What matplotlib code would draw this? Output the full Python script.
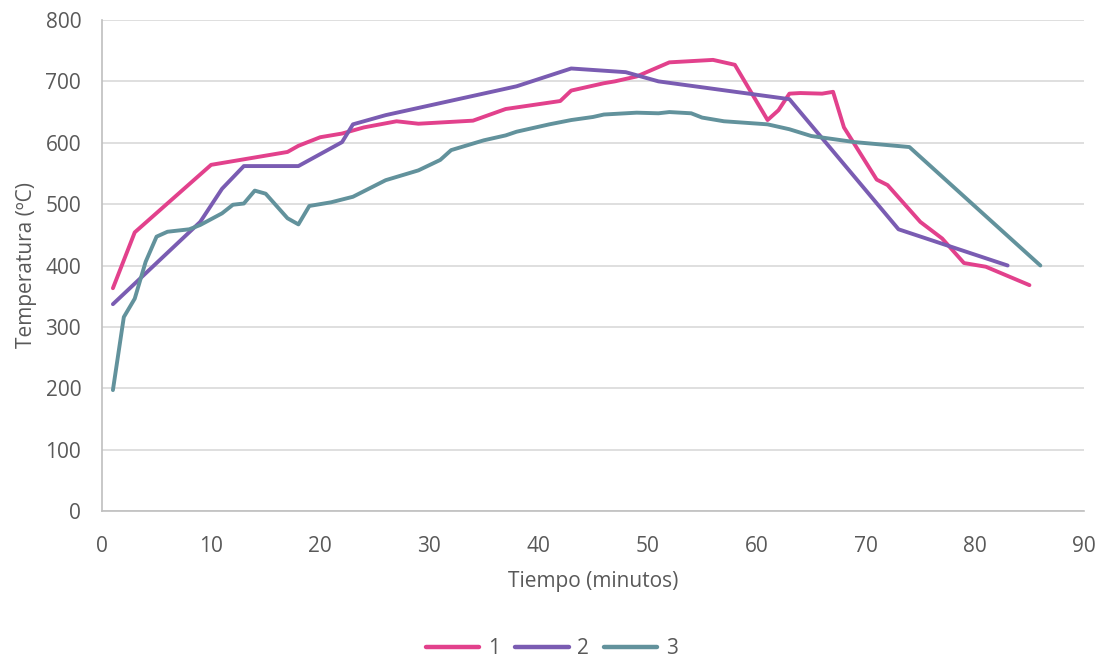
import matplotlib
matplotlib.use("Agg")
import matplotlib.pyplot as plt

plt.rcParams['font.family'] = ['Open Sans', 'DejaVu Sans']

# Series 1 (pink)
t1 = [1, 3, 10, 17, 18, 20, 22, 24, 27, 29, 34, 37, 42, 43, 46, 47, 49, 52, 56, 58, 61, 62, 63, 64, 66, 67, 68, 71, 72, 75, 77, 79, 81, 85]
y1 = [363, 454, 564, 585, 595, 609, 615, 625, 635, 631, 636, 655, 668, 685, 697, 700, 708, 731, 735, 727, 637, 653, 680, 681, 680, 683, 625, 540, 531, 471, 444, 404, 398, 368]

# Series 2 (purple)
t2 = [1, 9, 11, 13, 18, 22, 23, 26, 38, 43, 48, 51, 63, 73, 83]
y2 = [337, 471, 525, 562, 562, 601, 630, 645, 692, 721, 715, 700, 671, 459, 400]

# Series 3 (teal)
t3 = [1, 2, 3, 4, 5, 6, 8, 9, 11, 12, 13, 14, 15, 17, 18, 19, 21, 23, 26, 29, 31, 32, 35, 37, 38, 40, 41, 43, 45, 46, 49, 51, 52, 54, 55, 57, 61, 63, 65, 67, 69, 74, 86]
y3 = [197, 316, 346, 406, 447, 455, 459, 466, 485, 499, 501, 522, 517, 477, 467, 497, 503, 512, 539, 555, 572, 588, 604, 612, 618, 626, 630, 637, 642, 646, 649, 648, 650, 648, 641, 635, 630, 622, 611, 606, 601, 593, 400]

labels = ["1", "2", "3"]
colors = ["#E2418C", "#7A5CB2", "#62929C"]

fig = plt.figure(figsize=(11.04, 6.6), dpi=100)
ax = fig.add_axes([102/1104, 1 - 511/660, (1084-102)/1104, (511-20)/660])

for t, y, lab, c in zip([t1, t2, t3], [y1, y2, y3], labels, colors):
    ax.plot(t, y, color=c, lw=2.8, label=lab, solid_capstyle="round", solid_joinstyle="round")

fs = 15
ax.set_xlim(0, 90)
ax.set_ylim(0, 800)
ax.set_xticks(range(0, 91, 10))
ax.set_yticks(range(0, 801, 100))
ax.grid(axis="y", color="#D9D9D9", lw=1.2)
ax.set_axisbelow(True)
for s in ["top", "right"]:
    ax.spines[s].set_visible(False)
for s in ["left", "bottom"]:
    ax.spines[s].set_color("#BFBFBF")
    ax.spines[s].set_linewidth(1.2)
ax.tick_params(axis="both", length=0, labelsize=fs, colors="#595959")
ax.tick_params(axis="y", pad=15)
ax.tick_params(axis="x", pad=18)
ax.set_xlabel("Tiempo (minutos)", fontsize=fs, color="#595959", labelpad=10)
ax.set_ylabel("Temperatura (ºC)", fontsize=fs, color="#595959", labelpad=6)

leg = fig.legend(loc="center", bbox_to_anchor=(0.5, 1 - 649/660), ncol=3, frameon=False,
                 fontsize=fs, handlelength=2.55, columnspacing=0.75, handletextpad=0.4)
for txt in leg.get_texts():
    txt.set_color("#595959")
for h in leg.legend_handles:
    h.set_linewidth(3.2)

fig.savefig("out.png", dpi=100, facecolor="white")
